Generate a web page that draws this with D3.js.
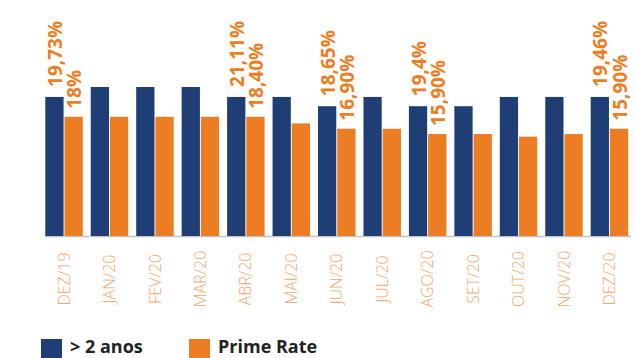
<!DOCTYPE html>
<html>
<head>
<meta charset="utf-8">
<script src="https://cdn.jsdelivr.net/npm/d3@7/dist/d3.min.js"></script>
<style>
  html, body { margin: 0; padding: 0; background: #fff; }
  svg { display: block; }
</style>
</head>
<body>
<script>
const categories = ["DEZ/19","JAN/20","FEV/20","MAR/20","ABR/20","MAI/20","JUN/20","JUL/20","AGO/20","SET/20","OUT/20","NOV/20","DEZ/20"];
const over2 = [21.0, 22.5, 22.5, 22.5, 21.0, 21.0, 19.6, 21.0, 19.6, 19.6, 21.0, 21.0, 21.0];
const prime = [18.0, 18.0, 18.0, 18.0, 18.0, 17.0, 16.2, 16.2, 15.4, 15.4, 15.0, 15.4, 16.2];
const over2Labels = ["19,73%", "", "", "", "21,11%", "", "18,65%", "", "19,4%", "", "", "", "19,46%"];
const primeLabels = ["18%", "", "", "", "18,40%", "", "16,90%", "", "15,90%", "", "", "", "15,90%"];
const seriesNames = ["> 2 anos", "Prime Rate"];

const W = 634, H = 358;
const BLUE = "#1f3e75", ORANGE = "#ec7d23";
const svg = d3.select("body").append("svg").attr("width", W).attr("height", H);

const baseY = 236;
const x = d3.scaleBand().domain(categories).range([45.3, 628.2]).paddingInner(0.175).paddingOuter(0);
const xs = d3.scaleBand().domain([0, 1]).range([0, x.bandwidth()]).paddingInner(0.05);
const y = d3.scaleLinear().domain([0, 22.5]).range([baseY, 87]);

const series = [
  { values: over2, labels: over2Labels, color: BLUE, off: 10 },
  { values: prime, labels: primeLabels, color: ORANGE, off: 8 }
];

// axis line
svg.append("line").attr("x1", 45).attr("x2", 631).attr("y1", baseY + 0.5).attr("y2", baseY + 0.5)
  .attr("stroke", "#c4c4c4").attr("stroke-width", 1.5);

series.forEach((s, si) => {
  const g = svg.append("g");
  g.selectAll("rect").data(categories).join("rect")
    .attr("x", c => x(c) + xs(si))
    .attr("width", xs.bandwidth())
    .attr("y", (c, i) => y(s.values[i]))
    .attr("height", (c, i) => baseY - y(s.values[i]))
    .attr("fill", s.color);
  g.selectAll("text").data(categories.filter((c, i) => s.labels[i] !== "")).join("text")
    .attr("transform", c => {
      const i = categories.indexOf(c);
      return `translate(${x(c) + xs(si) + xs.bandwidth() / 2 + 1},${y(s.values[i]) - s.off}) rotate(-90)`;
    })
    .attr("dy", "0.35em")
    .attr("text-anchor", "start")
    .attr("font-family", "'Open Sans', sans-serif")
    .attr("font-weight", 700)
    .attr("font-size", 19)
    .attr("fill", ORANGE)
    .text(c => s.labels[categories.indexOf(c)]);
});

// x axis labels
svg.append("g").selectAll("text").data(categories).join("text")
  .attr("transform", c => `translate(${x(c) + x.bandwidth() / 2},279) rotate(-90)`)
  .attr("dy", "0.35em")
  .attr("text-anchor", "middle")
  .attr("font-family", "'Open Sans', sans-serif")
  .attr("font-weight", 300)
  .attr("font-size", 16)
  .attr("fill", "#f3a66c")
  .text(c => c);

// legend
const legend = svg.append("g");
const legendItems = [
  { name: seriesNames[0], color: BLUE, x: 41 },
  { name: seriesNames[1], color: ORANGE, x: 189 }
];
legendItems.forEach(it => {
  legend.append("rect").attr("x", it.x).attr("y", 339).attr("width", 21).attr("height", 19).attr("fill", it.color);
  legend.append("text").attr("x", it.x + 29).attr("y", 353)
    .attr("font-family", "'Open Sans', sans-serif")
    .attr("font-weight", 700)
    .attr("font-size", 18)
    .attr("fill", "#222")
    .text(it.name);
});
</script>
</body>
</html>
